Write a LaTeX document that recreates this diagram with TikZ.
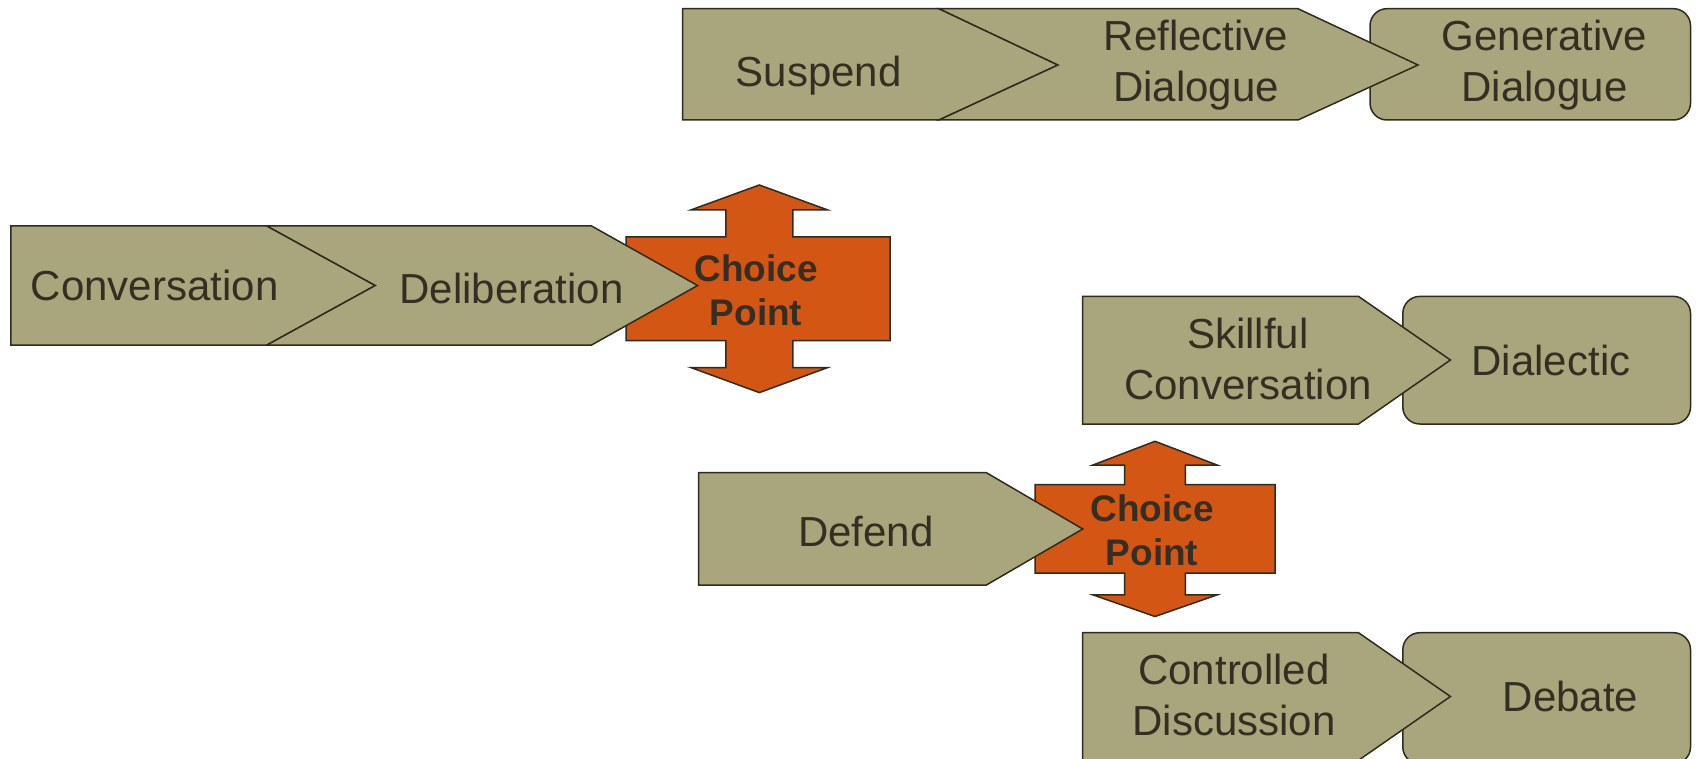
\documentclass[tikz,border=0pt]{standalone}
\usepackage{fontspec}
\setmainfont{Liberation Sans}
\definecolor{khaki}{HTML}{A9A57C}
\definecolor{orng}{HTML}{D35614}
\definecolor{edgec}{HTML}{2F2B1E}
\definecolor{txtc}{HTML}{342F22}
\begin{document}
\begin{tikzpicture}[x=1pt,y=-1pt,
  kshape/.style={fill=khaki,draw=edgec,line width=1.5pt,line join=miter},
  oshape/.style={fill=orng,draw=edgec,line width=1.5pt,line join=miter},
  rbox/.style={kshape,rounded corners=17pt},
  lbl/.style={font=\fontsize{42}{50.4}\selectfont,align=center,text=txtc,inner sep=0pt},
  cpl/.style={font=\bfseries\fontsize{37}{44.4}\selectfont,align=center,text=txtc,inner sep=0pt}]
\useasboundingbox (0,0) rectangle (1696,759);
\clip (0,0) rectangle (1696,759);
% top row
\draw[rbox] (1370,8.7) rectangle (1690.5,120);
\draw[kshape] (682.5,8.7) -- (939,8.7) -- (1058,65) -- (939,120) -- (682.5,120) -- cycle;
\draw[kshape] (939,8.7) -- (1298,8.7) -- (1418,65) -- (1298,120) -- (939,120) -- (1058,65) -- cycle;
\node[lbl] (suspend) at (818.8,75.5) {Suspend};
\node[lbl] (reflective) at (1196,65) {Reflective\\Dialogue};
\node[lbl] (generative) at (1544.5,65) {Generative\\Dialogue};
% second row
\draw[oshape] (759.3,185) -- (827.3,209.8) -- (792.8,209.8) -- (792.8,237) -- (890,237)
  -- (890,340.7) -- (792.8,340.7) -- (792.8,367.7) -- (827.3,367.7) -- (759.3,392.6)
  -- (691.3,367.7) -- (725.8,367.7) -- (725.8,340.7) -- (626,340.7) -- (626,237)
  -- (725.8,237) -- (725.8,209.8) -- (691.3,209.8) -- cycle;
\draw[kshape] (10.8,226) -- (267,226) -- (375.3,285.5) -- (267,345) -- (10.8,345) -- cycle;
\draw[kshape] (267,226) -- (591.6,226) -- (697.6,285.5) -- (591.6,345) -- (267,345) -- (375.3,285.5) -- cycle;
\node[lbl] (conversation) at (154.7,285.5) {Conversation};
\node[lbl] (deliberation) at (511.6,288.5) {Deliberation};
\node[cpl] (choice1) at (756,290) {Choice\\Point};
% third row
\draw[rbox] (1402.8,296.4) rectangle (1690.5,424);
\draw[kshape] (1082.7,296.4) -- (1358.5,296.4) -- (1450.4,360) -- (1358.5,424) -- (1082.7,424) -- cycle;
\node[lbl] (skillful) at (1248,359) {Skillful\\Conversation};
\node[lbl] (dialectic) at (1551,360) {Dialectic};
\draw[oshape] (1155,441.3) -- (1217,465) -- (1185.4,465) -- (1185.4,484.6) -- (1275,484.6)
  -- (1275,573.2) -- (1185.4,573.2) -- (1185.4,594.9) -- (1217,594.9) -- (1155,616.5)
  -- (1093,594.9) -- (1124.6,594.9) -- (1124.6,573.2) -- (1035,573.2) -- (1035,484.6)
  -- (1124.6,484.6) -- (1124.6,465) -- (1093,465) -- cycle;
\draw[kshape] (698.7,472.7) -- (986.4,472.7) -- (1082.7,529) -- (986.4,585) -- (698.7,585) -- cycle;
\node[lbl] (defend) at (866,531) {Defend};
\node[cpl] (choice2) at (1152,530) {Choice\\Point};
% bottom row
\draw[rbox] (1402.8,632.7) rectangle (1690.5,764);
\draw[kshape] (1082.7,632.7) -- (1358.5,632.7) -- (1450.4,696.5) -- (1358.5,760.3) -- (1082.7,760.3) -- cycle;
\node[lbl] (controlled) at (1234,695) {Controlled\\Discussion};
\node[lbl] (debate) at (1570.5,696.5) {Debate};
\end{tikzpicture}
\end{document}
